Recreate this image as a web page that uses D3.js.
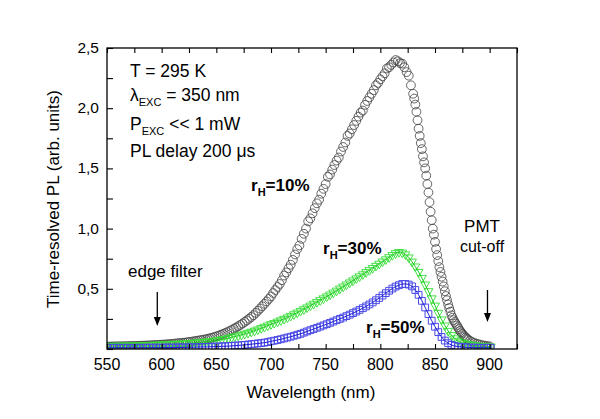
<!DOCTYPE html>
<html><head><meta charset="utf-8">
<script src="https://cdn.jsdelivr.net/npm/d3@7"></script>
<style>
body{margin:0;background:#fff}
svg{display:block}
text{font-family:Arial,"Liberation Sans",sans-serif;fill:#000}
</style>
</head><body>
<svg id="c" width="600" height="419"></svg>
<script>
// ---------- data ----------
const wlBlack = [...d3.range(550, 830, 2), ...d3.range(830, 880, 1), ...d3.range(880, 901, 2)];
const plBlack = [
  .020,.020,.021,.021,.022,.022,.022,.023,.023,.024,.024,.025,.025,.026,.026,.027,.028,.028,.029,.030,.031,.032,.033,.034,.035,.036,
  .037,.038,.040,.041,.043,.045,.047,.049,.050,.052,.054,.057,.059,.062,.065,.068,.071,.074,.077,.081,
  .085,.089,.094,.099,.105,.111,.118,.125,.132,.140,.149,.158,.168,.178,.189,.200,.212,.225,.238,.252,.266,.281,.300,.318,.336,.355,.375,.395,.416,.437,
  .465,.490,.515,.540,.571,.610,.636,.670,.700,.740,
  .785,.830,.860,.915,.957,1.00,1.06,1.085,1.127,1.17,
  1.21,1.24,1.29,1.33,1.37,1.43,1.45,1.49,1.528,1.565,
  1.59,1.64,1.678,1.715,1.77,1.79,1.825,1.86,1.895,1.93,
  1.963,1.98,2.028,2.06,2.09,2.12,2.15,2.19,2.21,2.24,
  2.265,2.29,2.33,2.34,2.36,2.38,2.40,2.39,2.375,2.37,
  2.34,2.30,2.27,2.19,
  2.12,2.08,2.03,1.97,1.90,1.83,1.77,1.71,1.66,1.60,
  1.55,1.50,1.44,1.37,1.30,1.22,1.14,1.07,1.00,0.95,
  0.89,0.83,0.78,0.73,0.68,0.64,0.60,0.56,0.52,0.48,
  0.44,0.405,0.37,0.34,0.31,0.28,0.26,0.24,0.225,0.21,
  0.195,0.18,0.165,0.15,0.138,0.126,0.115,0.105,0.096,0.088,
  .080,.068,.058,.050,.044,.039,.034,.030,.027,.024,.022
];
const wlGrid = d3.range(550, 902, 3);
const plGreen = [
  .025,.025,.026,.026,.027,.027,.028,.028,.029,.030,
  .030,.031,.032,.033,.034,.035,.036,.037,.038,.039,
  .040,.042,.043,.045,.047,.049,.051,.053,.055,.057,
  .060,.063,.066,.070,.074,.079,.084,.090,.097,.104,
  .111,.118,.126,.134,.143,.152,.162,.173,.184,.195,
  .206,.216,.227,.238,.250,.262,.275,.288,.302,.316,
  .330,.345,.360,.375,.390,.405,.420,.436,.452,.468,
  .484,.501,.518,.535,.552,.569,.586,.603,.620,.638,
  .655,.672,.690,.708,.726,.744,.762,.780,.795,.805,
  .800,.785,.760,.725,.685,.640,.590,.535,.480,.420,
  .360,.300,.245,.195,.150,.115,.088,.068,.055,.046,
  .040,.035,.031,.028,.025,.023,.021,.020
];
const plBlue = [
  .010,.010,.010,.010,.010,.010,.010,.010,.010,.010,
  .010,.010,.010,.011,.011,.011,.011,.011,.012,.012,
  .012,.012,.013,.013,.013,.014,.014,.015,.016,.017,
  .017,.018,.019,.020,.021,.022,.023,.024,.026,.028,
  .030,.032,.034,.037,.040,.043,.046,.049,.053,.057,
  .064,.069,.075,.081,.088,.095,.102,.110,.118,.126,
  .136,.146,.156,.166,.176,.186,.196,.206,.217,.228,
  .239,.250,.261,.273,.285,.298,.311,.325,.339,.354,
  .370,.387,.405,.424,.444,.464,.484,.502,.518,.530,
  .540,.540,.535,.520,.490,.450,.400,.345,.290,.235,
  .185,.140,.100,.070,.048,.034,.025,.020,.017,.015,
  .013,.012,.011,.011,.010,.010,.010,.010
];
const xTickValues = d3.range(550, 926, 25);
const xLabelValues = [550, 600, 650, 700, 750, 800, 850, 900];
const yTickValues = d3.range(0, 2.51, 0.25);
const yLabelValues = [0.5, 1.0, 1.5, 2.0, 2.5];
const seriesLabels = ["10%", "30%", "50%"];

// ---------- layout ----------
const svg = d3.select("#c");
const L = 107, R = 517, T = 48, B = 349;
const x = d3.scaleLinear().domain([550, 925]).range([L, R]);
const y = d3.scaleLinear().domain([0, 2.5]).range([B, T]);
const fmt = v => d3.format(".1f")(v).replace(".", ",");

svg.append("rect").attr("width", 600).attr("height", 419).attr("fill", "#fff");

svg.append("clipPath").attr("id", "clip").append("rect")
  .attr("x", L).attr("y", T).attr("width", R - L).attr("height", B - T);
const plot = svg.append("g").attr("clip-path", "url(#clip)");

// black circles
const blackData = wlBlack.map((w, i) => [w, plBlack[i]]);
plot.append("g").selectAll("circle").data(blackData).join("circle")
  .attr("cx", d => x(d[0])).attr("cy", d => y(d[1])).attr("r", 4.4)
  .attr("fill", "none").attr("stroke", "#404040").attr("stroke-width", 0.8);

// green triangles
const greenData = wlGrid.map((w, i) => [w, plGreen[i]]);
const tri = d3.symbol().type(d3.symbolTriangle).size(34);
plot.append("g").selectAll("path").data(greenData).join("path")
  .attr("d", tri)
  .attr("transform", d => `translate(${x(d[0])},${y(d[1])}) rotate(180)`)
  .attr("fill", "none").attr("stroke", "#33dd33").attr("stroke-width", 0.9);
plot.append("path").datum(greenData)
  .attr("d", d3.line().x(d => x(d[0])).y(d => y(d[1])).curve(d3.curveMonotoneX))
  .attr("fill", "none").attr("stroke", "#1ec81e").attr("stroke-width", 1);

// blue squares
const blueData = wlGrid.map((w, i) => [w, plBlue[i]]);
const sq = d3.symbol().type(d3.symbolSquare).size(46);
plot.append("g").selectAll("path").data(blueData).join("path")
  .attr("d", sq)
  .attr("transform", d => `translate(${x(d[0])},${y(d[1])})`)
  .attr("fill", "none").attr("stroke", "#4a4ae8").attr("stroke-width", 1);
plot.append("path").datum(blueData)
  .attr("d", d3.line().x(d => x(d[0])).y(d => y(d[1])).curve(d3.curveMonotoneX))
  .attr("fill", "none").attr("stroke", "#1f1fd0").attr("stroke-width", 1);

// ---------- axes ----------
const ax = svg.append("g");
ax.append("g").attr("transform", `translate(0,${B})`)
  .call(d3.axisBottom(x).tickValues(xTickValues).tickSizeInner(-5).tickSizeOuter(0).tickFormat(""))
  .call(g => g.select(".domain").remove());
ax.append("g").attr("transform", `translate(0,${T})`)
  .call(d3.axisTop(x).tickValues(xTickValues).tickSizeInner(-5).tickSizeOuter(0).tickFormat(""))
  .call(g => g.select(".domain").remove());
ax.append("g").attr("transform", `translate(${L},0)`)
  .call(d3.axisLeft(y).tickValues(yTickValues).tickSizeInner(-6).tickSizeOuter(0).tickFormat(""))
  .call(g => g.select(".domain").remove());
ax.selectAll("line").attr("stroke", "#000").attr("stroke-width", 1.1);

svg.append("rect").attr("x", L).attr("y", T).attr("width", R - L).attr("height", B - T)
  .attr("fill", "none").attr("stroke", "#000").attr("stroke-width", 1.3);

// tick labels
svg.append("g").selectAll("text").data(xLabelValues).join("text")
  .attr("x", d => x(d)).attr("y", 370).attr("text-anchor", "middle")
  .attr("font-size", 16).text(d => d);
svg.append("g").selectAll("text").data(yLabelValues).join("text")
  .attr("x", 99).attr("y", d => y(d) + 5).attr("text-anchor", "end")
  .attr("font-size", 15.5).text(fmt);

// axis titles
svg.append("text").attr("x", 311).attr("y", 398).attr("text-anchor", "middle")
  .attr("font-size", 17).text("Wavelength (nm)");
svg.append("text").attr("transform", "translate(59,199) rotate(-90)").attr("text-anchor", "middle")
  .attr("font-size", 17).text("Time-resolved PL (arb. units)");

// info block
const info = svg.append("g").attr("font-size", 17.5);
info.append("text").attr("x", 130).attr("y", 77).text("T = 295 K");
const l2 = info.append("text").attr("x", 130).attr("y", 101);
l2.append("tspan").text("λ");
l2.append("tspan").attr("font-size", 11).attr("dy", 5).text("EXC");
l2.append("tspan").attr("dy", -5).text(" = 350 nm");
const l3 = info.append("text").attr("x", 130).attr("y", 130);
l3.append("tspan").text("P");
l3.append("tspan").attr("font-size", 11).attr("dy", 5).text("EXC");
l3.append("tspan").attr("dy", -5).text(" << 1 mW");
info.append("text").attr("x", 130).attr("y", 157).text("PL delay 200 μs");

// series labels
function rLabel(px, py, txt) {
  const t = svg.append("text").attr("x", px).attr("y", py).attr("font-size", 17).attr("font-weight", "bold");
  t.append("tspan").text("r");
  t.append("tspan").attr("font-size", 11).attr("dy", 5).text("H");
  t.append("tspan").attr("dy", -5).text("=" + txt);
}
rLabel(251, 191, seriesLabels[0]);
rLabel(323, 254, seriesLabels[1]);
rLabel(366, 333, seriesLabels[2]);

// annotations
svg.append("text").attr("x", 128).attr("y", 277).attr("font-size", 17).text("edge filter");
svg.append("text").attr("x", 482).attr("y", 232).attr("text-anchor", "middle").attr("font-size", 17).text("PMT");
svg.append("text").attr("x", 482).attr("y", 252).attr("text-anchor", "middle").attr("font-size", 16).text("cut-off");

function arrow(ax0, y0, y1) {
  svg.append("line").attr("x1", ax0).attr("x2", ax0).attr("y1", y0).attr("y2", y1 - 6)
    .attr("stroke", "#000").attr("stroke-width", 1.3);
  svg.append("path").attr("d", `M${ax0 - 3.5},${y1 - 9}L${ax0 + 3.5},${y1 - 9}L${ax0},${y1}Z`).attr("fill", "#000");
}
arrow(x(596), 292, 326);
arrow(x(898), 290, 322);
</script>
</body></html>
